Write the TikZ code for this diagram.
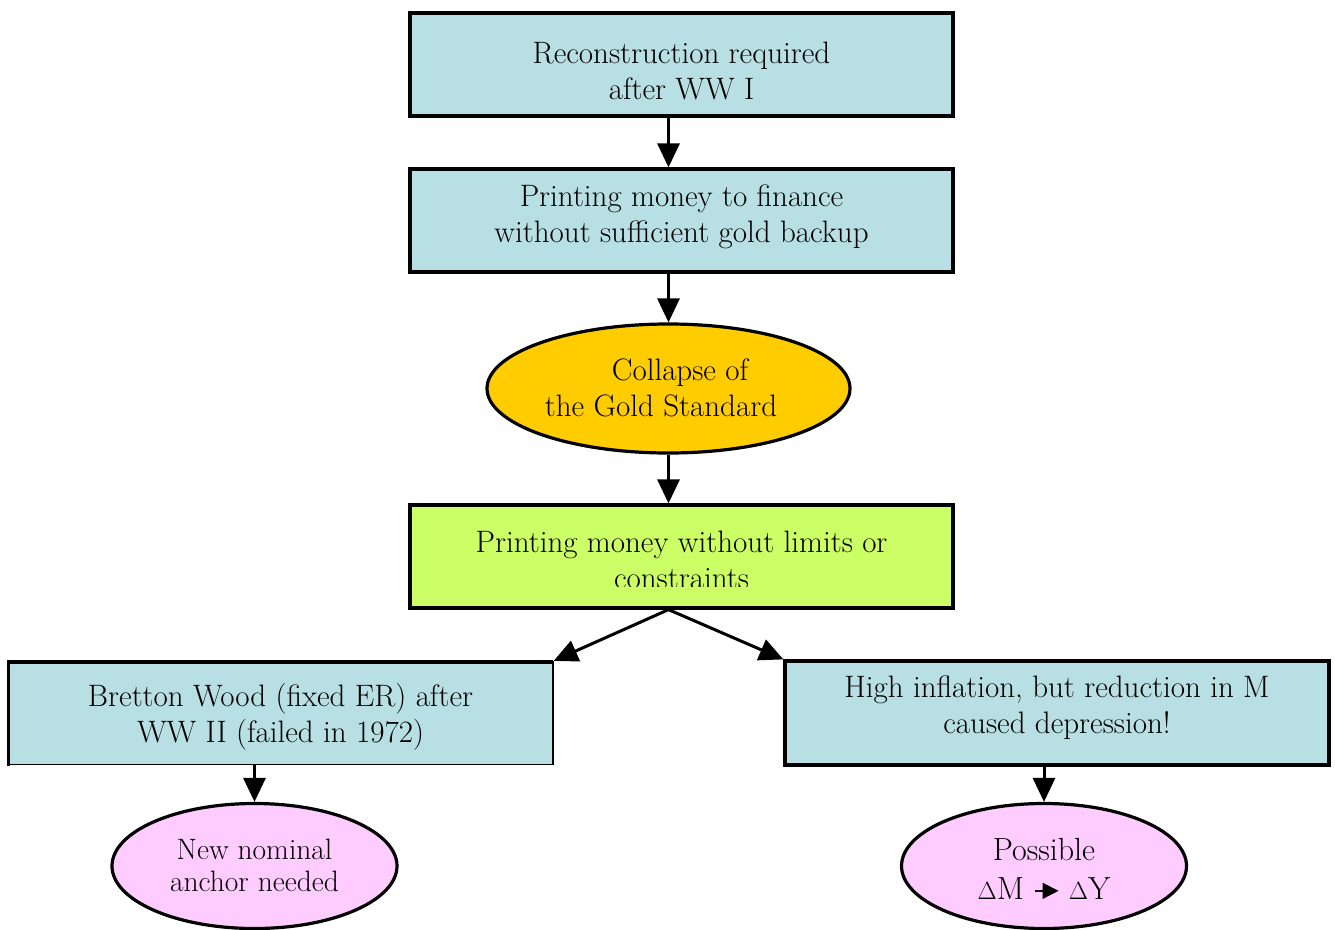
\documentclass[tikz,border=0pt]{standalone}
\usepackage{fontspec}
\setmainfont{Latin Modern Roman}
\usetikzlibrary{shapes.geometric,arrows.meta,calc}
\definecolor{boxblue}{HTML}{B8DFE3}
\definecolor{boxgreen}{HTML}{CCFF66}
\definecolor{ellgold}{HTML}{FFCC00}
\definecolor{ellpink}{HTML}{FFCCFF}
\tikzset{
  base/.style={draw=black, line width=3.2pt, inner sep=0pt},
  rbox/.style={base, rectangle, minimum width=543pt, minimum height=103pt, fill=boxblue},
  oval/.style={base, ellipse, fill=ellpink, minimum width=285pt, minimum height=125pt},
  txt/.style={align=center, inner sep=0pt, font=\fontsize{31}{36}\selectfont},
  conn/.style={line width=3pt, -{Triangle[length=24pt,width=22pt]}}
}
\begin{document}
\begin{tikzpicture}[x=1pt,y=-1pt]
\useasboundingbox (0,0) rectangle (1335,929);
% boxes and ovals
\node[rbox] (b1) at (681.5,64.5) {};
\node[txt] (b1t) at (681.5,71) {Reconstruction required\\after WW I};
\node[rbox] (b2) at (681.5,220.5) {};
\node[txt] (b2t) at (681.5,217) {Printing money to finance\\without sufficient gold backup};
\node[base, ellipse, fill=ellgold, minimum width=363pt, minimum height=129pt] (e1) at (668.5,388.5) {};
\node[txt] (e1t) at (668.5,388) {\hspace*{23pt}Collapse of\\the Gold Standard\hspace*{15pt}};
\node[rbox, fill=boxgreen] (b3) at (681.5,556.5) {};
\node[txt] (b3t) at (681.5,560) {Printing money without limits or\\constraints};
\fill[boxgreen] (411.8,587) rectangle (951.2,606.2);
\node[rbox, line width=1.3pt, minimum width=545pt, minimum height=103pt] (b4) at (280.5,713) {};
\draw[line width=2.4pt, line cap=rect] (8.6,764.5) -- (8.6,661.5);
\draw[line width=4pt] (7.4,661.5) -- (553,661.5);
\node[txt] (b4t) at (280.5,717) {Bretton Wood (fixed ER) after\\WW II (failed in 1972)};
\node[rbox, minimum width=544pt, minimum height=104pt] (b5) at (1057,713) {};
\node[txt] (b5t) at (1057,707.5) {High inflation, but reduction in M\\caused depression!};
\node[oval] (e2) at (254.5,866) {};
\node[txt, font=\fontsize{29.5}{32}\selectfont] (e2t) at (254.5,865) {New nominal\\anchor needed};
\node[oval] (e3) at (1044,866) {};
\node[txt, font=\fontsize{32}{39}\selectfont] (e3t) at (1044,868.5) {Possible\\$\Delta$M \tikz[baseline=-0.6ex]\draw[line width=1.5pt,-{Triangle[length=16pt,width=16pt]}] (0,0)--(24pt,0); $\Delta$Y};
% connectors
\draw[conn] (b1.south -| e1.north) -- (b2.north -| e1.north);
\draw[conn] (b2.south -| e1.north) -- (e1.north);
\draw[conn] (e1.south) -- (b3.north -| e1.south);
\draw[conn] (b3.south -| e1.south) -- (b4.north east);
\draw[conn] (b3.south -| e1.south) -- (b5.north west);
\draw[conn] (b4.south -| e2.north) -- (e2.north);
\draw[conn] (b5.south -| e3.north) -- (e3.north);
\end{tikzpicture}
\end{document}
